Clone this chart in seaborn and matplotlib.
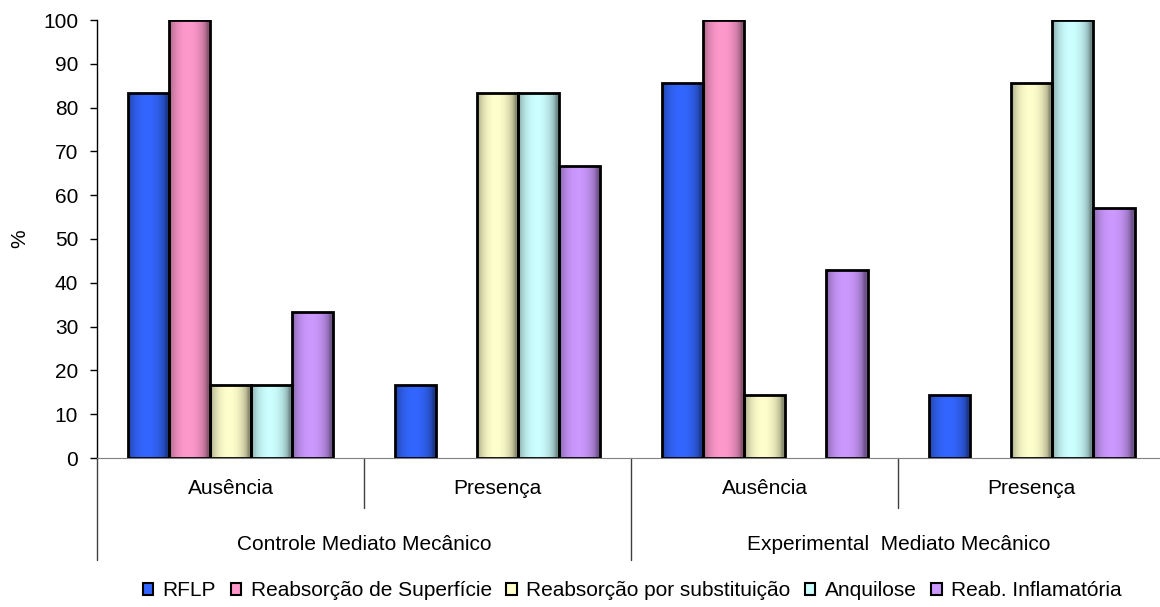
import matplotlib
matplotlib.use("Agg")
import matplotlib.pyplot as plt
import matplotlib.colors as mcolors
from matplotlib.patches import Patch
import seaborn as sns
import numpy as np
import pandas as pd

# data
groups = ["Controle Mediato Mecânico", "Experimental  Mediato Mecânico"]
categories = ["Ausência", "Presença", "Ausência", "Presença"]
series = ["RFLP", "Reabsorção de Superfície", "Reabsorção por substituição",
          "Anquilose", "Reab. Inflamatória"]
rflp = [83.3, 16.7, 85.7, 14.3]
superficie = [100, 0, 100, 0]
substituicao = [16.7, 83.3, 14.3, 85.7]
anquilose = [16.7, 83.3, 0, 100]
inflamatoria = [33.3, 66.7, 42.9, 57.1]
colors = ["#3366FF", "#FF99CC", "#FFFFCC", "#CCFFFF", "#CC99FF"]

keys = [f"{i}" for i in range(len(categories))]
rows = []
for name, vals in zip(series, [rflp, superficie, substituicao, anquilose, inflamatoria]):
    for k, v in zip(keys, vals):
        rows.append({"cat": k, "serie": name, "pct": v})
df = pd.DataFrame(rows)

sns.set_style("white")
plt.rcParams["font.family"] = ["Liberation Sans", "DejaVu Sans"]
plt.rcParams["text.color"] = "black"
plt.rcParams["xtick.color"] = "black"
plt.rcParams["ytick.color"] = "black"
plt.rcParams["axes.labelcolor"] = "black"

FS = 15

fig = plt.figure(figsize=(11.6, 6.07), dpi=100)
ax = fig.add_axes([97 / 1160, 1 - 458 / 607, 1 - 97 / 1160, (458 - 20) / 607])

palette = dict(zip(series, colors))
sns.barplot(data=df, x="cat", y="pct", hue="serie", order=keys, hue_order=series,
            palette=palette, width=0.77, gap=0, edgecolor="black", linewidth=2,
            saturation=1, legend=False, ax=ax)

# cylinder-like shading on each bar
t = np.linspace(0, 1, 64)
shade = 0.55 + 0.45 * np.sin(np.pi * np.clip(t * 1.1, 0, 1)) ** 0.5
for patch in list(ax.patches):
    h = patch.get_height()
    if h <= 0:
        patch.set_visible(False)
        continue
    base = np.array(mcolors.to_rgb(patch.get_facecolor()))
    img = (shade[:, None] * base[None, :])[None, :, :]
    x0 = patch.get_x()
    w = patch.get_width()
    im = ax.imshow(img, extent=(x0, x0 + w, 0, h), aspect="auto", zorder=2,
                   interpolation="bilinear")
    im.set_clip_path(patch)
    patch.set_facecolor("none")
    patch.set_zorder(3)

ax.set_xlim(-0.5, 3.48)
ax.set_ylim(0, 100)
ax.set_yticks(range(0, 101, 10))
ax.tick_params(axis="y", left=True, length=5, width=1, labelsize=FS, pad=8.5)
ax.set_xticks(range(len(categories)))
ax.set_xticklabels(categories, fontsize=FS)
ax.tick_params(axis="x", bottom=False, length=0, pad=15)
ax.set_xlabel("")
ax.set_ylabel("%", fontsize=FS, labelpad=10)

for s in ["top", "right"]:
    ax.spines[s].set_visible(False)
ax.spines["left"].set_color("black")
ax.spines["bottom"].set_color("#808080")
ax.spines["left"].set_linewidth(1)

# category / group separators below the axis
trans = ax.get_xaxis_transform()
px = 1 / 438  # one pixel in axes-fraction units
for xs, ylow in [(0.5, -50 * px), (2.5, -50 * px), (-0.5, -102 * px), (1.5, -102 * px)]:
    ax.plot([xs, xs], [0, ylow], color="#404040", lw=1, transform=trans, clip_on=False)
for gi, g in enumerate(groups):
    ax.text(gi * 2 + 0.5, -86 * px, g, ha="center", va="center", fontsize=FS,
            transform=trans)

handles = [Patch(facecolor=c, edgecolor="black", linewidth=1.5) for c in colors]
fig.legend(handles, series, loc="center", bbox_to_anchor=(0.545, 1 - 591 / 607), ncol=5,
           frameon=False, fontsize=FS, handlelength=0.5, handleheight=0.5,
           handletextpad=0.45, columnspacing=0.7)

fig.savefig("out.png", dpi=100)
